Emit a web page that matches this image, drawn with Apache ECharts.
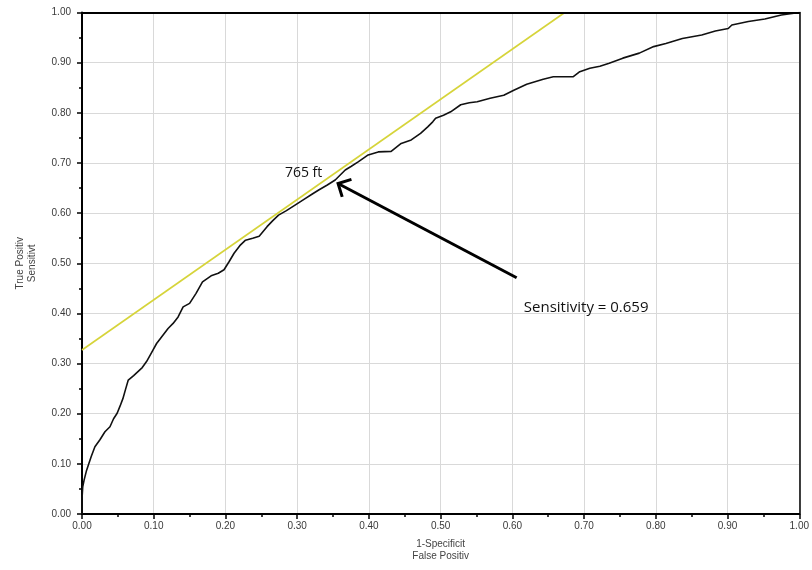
<!DOCTYPE html>
<html><head><meta charset="utf-8">
<script src="https://cdn.jsdelivr.net/npm/echarts@6/dist/echarts.min.js"></script>
<style>html,body{margin:0;padding:0;background:#fff}#c{width:812px;height:570px}</style>
</head><body><div id="c"></div>
<script>
// ROC curve points [1-specificity, sensitivity]
const rocCurve = [[0,0],[0.0,0.03],[0.001,0.054],[0.003,0.068],[0.006,0.085],[0.009,0.098],[0.013,0.115],[0.018,0.134],[0.025,0.148],[0.032,0.164],[0.039,0.174],[0.044,0.19],[0.049,0.201],[0.053,0.215],[0.057,0.23],[0.061,0.25],[0.0645,0.267],[0.072,0.276],[0.078,0.284],[0.084,0.292],[0.09,0.304],[0.097,0.322],[0.104,0.34],[0.112,0.355],[0.12,0.37],[0.127,0.38],[0.134,0.393],[0.141,0.413],[0.150,0.42],[0.159,0.44],[0.168,0.463],[0.18,0.475],[0.19,0.48],[0.198,0.487],[0.205,0.503],[0.212,0.52],[0.22,0.535],[0.228,0.546],[0.238,0.55],[0.247,0.554],[0.258,0.573],[0.266,0.585],[0.274,0.596],[0.285,0.605],[0.297,0.616],[0.31,0.628],[0.32,0.637],[0.33,0.646],[0.342,0.656],[0.353,0.666],[0.367,0.686],[0.375,0.693],[0.385,0.702],[0.399,0.716],[0.413,0.722],[0.431,0.723],[0.445,0.739],[0.459,0.746],[0.472,0.759],[0.482,0.772],[0.489,0.782],[0.493,0.789],[0.504,0.795],[0.514,0.802],[0.528,0.816],[0.54,0.82],[0.551,0.822],[0.569,0.829],[0.588,0.835],[0.602,0.845],[0.62,0.857],[0.643,0.867],[0.657,0.872],[0.685,0.872],[0.694,0.882],[0.708,0.889],[0.722,0.893],[0.735,0.899],[0.754,0.909],[0.777,0.919],[0.797,0.932],[0.814,0.938],[0.837,0.948],[0.864,0.955],[0.883,0.963],[0.901,0.968],[0.906,0.975],[0.929,0.982],[0.952,0.987],[0.975,0.995],[1.0,1.0]];
// tangent line endpoints
const tangentLine = [[0,0.327],[0.673,1.0]];
// arrow: from tail to tip
const arrowTail = [0.606,0.471];
const arrowTip = [0.357,0.659];
// text annotations
const cutoffLabel = {text:'765 ft', pos:[0.309,0.68]};
const sensLabel = {text:'Sensitivity = 0.659', pos:[0.616,0.411]};
const xAxisName = '1-Specificit\nFalse Positiv';
const yAxisName = 'True Positiv\nSensitivt';

const chart = echarts.init(document.getElementById('c'));
const axisCommon = {
  type:'value', min:0, max:1, interval:0.1,
  axisLine:{show:true, onZero:false, lineStyle:{color:'#000', width:2}},
  axisTick:{show:true, inside:false, length:5, lineStyle:{color:'#000', width:1.5}},
  minorTick:{show:true, splitNumber:2, length:3, lineStyle:{color:'#000', width:1.5}},
  splitLine:{show:true, lineStyle:{color:'#d9d9d9', width:1}},
  axisLabel:{formatter:v=>v.toFixed(2), color:'#3a3a3a', fontFamily:'Liberation Sans', fontSize:10},
  nameTextStyle:{color:'#444', fontFamily:'Liberation Sans', fontSize:10, lineHeight:12}
};
const borderAxis = {type:'value', min:0, max:1, interval:0.1,
  axisLine:{show:true, onZero:false, lineStyle:{color:'#000', width:2}}, axisTick:{show:false},
  axisLabel:{show:false}, splitLine:{show:false}, minorTick:{show:false}, z:10};
chart.setOption({
  animation:false,
  grid:{left:82, right:7, top:12.5, bottom:56, show:false},
  xAxis:[Object.assign({}, axisCommon, {name:xAxisName, nameLocation:'middle', nameGap:24,
    axisLabel:Object.assign({}, axisCommon.axisLabel, {margin:7})}),
    Object.assign({}, borderAxis, {position:'top'})],
  yAxis:[Object.assign({}, axisCommon, {name:yAxisName, nameLocation:'middle', nameGap:44, nameRotate:90,
    axisLabel:Object.assign({}, axisCommon.axisLabel, {margin:11})}),
    Object.assign({}, borderAxis, {position:'right', axisLine:{show:true, onZero:false, lineStyle:{color:'#000', width:1.5}}})],
  series:[
    {type:'line', data:tangentLine, symbol:'none', lineStyle:{color:'#d6d43a', width:1.6}, z:3},
    {type:'line', data:rocCurve, symbol:'none', lineStyle:{color:'#111', width:1.6}, z:4},
    {type:'custom', data:[[arrowTail[0],arrowTail[1],arrowTip[0],arrowTip[1]]], z:5,
      renderItem:function(params, api){
        const a = api.coord([api.value(0), api.value(1)]);
        const b = api.coord([api.value(2), api.value(3)]);
        const dx=a[0]-b[0], dy=a[1]-b[1], L=Math.hypot(dx,dy);
        const ux=dx/L, uy=dy/L, ang=Math.PI/4, len=14;
        const r=(c,s)=>[b[0]+len*(ux*c - uy*s), b[1]+len*(ux*s + uy*c)];
        const p1=r(Math.cos(ang), Math.sin(ang)), p2=r(Math.cos(-ang), Math.sin(-ang));
        return {type:'group', children:[
          {type:'line', shape:{x1:a[0],y1:a[1],x2:b[0]+ux*1,y2:b[1]+uy*1}, style:{stroke:'#000', lineWidth:3}},
          {type:'polyline', shape:{points:[p1,b,p2]}, style:{stroke:'#000', lineWidth:3, fill:null, lineJoin:'miter'}}
        ]};
      }},
    {type:'custom', data:[[cutoffLabel.pos[0],cutoffLabel.pos[1],0],[sensLabel.pos[0],sensLabel.pos[1],1]], z:6,
      renderItem:function(params, api){
        const p = api.coord([api.value(0), api.value(1)]);
        const first = api.value(2)===0;
        const lbl = first ? cutoffLabel : sensLabel;
        return {type:'text', x:p[0], y:p[1], style:{text:lbl.text, fill:'#111', font:(first?'14px':'15px')+' "Open Sans"', align:first?'center':'left', verticalAlign:'middle'}};
      }}
  ]
});
</script></body></html>
